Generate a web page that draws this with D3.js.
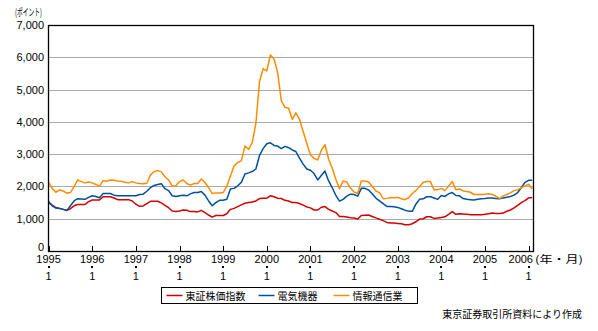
<!DOCTYPE html>
<html><head><meta charset="utf-8">
<script src="https://cdn.jsdelivr.net/npm/d3@7/dist/d3.min.js"></script>
<style>body{margin:0;background:#fff}svg{display:block}</style>
</head><body>
<svg id="c" width="598" height="331"></svg>
<script>
const yearLabels = ["1995","1996","1997","1998","1999","2000","2001","2002","2003","2004","2005","2006"];
const monthLabel = "1";
const yTicks = [0,1000,2000,3000,4000,5000,6000,7000];
const seriesNames = ["東証株価指数","電気機器","情報通信業"];
const seriesColors = ["#d40000","#0050a0","#ff8c00"];
// monthly values, 1995/1 .. 2006/2
const topix = [1500,1420,1345,1320,1290,1260,1310,1400,1440,1440,1440,1530,
1580,1580,1580,1680,1680,1680,1640,1590,1590,1590,1590,1550,
1450,1385,1395,1470,1540,1540,1540,1490,1415,1340,1240,1220,
1240,1270,1260,1220,1220,1210,1260,1190,1115,1050,1100,1100,
1100,1155,1290,1320,1375,1430,1480,1500,1520,1550,1625,1635,
1635,1710,1680,1635,1625,1570,1550,1500,1500,1470,1420,1365,
1335,1270,1270,1355,1375,1290,1240,1190,1070,1070,1055,1030,
1020,990,1100,1110,1115,1070,1025,985,940,885,870,865,
855,845,815,815,845,905,990,1000,1060,1060,1010,1020,
1040,1060,1135,1220,1135,1155,1145,1135,1125,1125,1125,1125,
1135,1155,1175,1165,1165,1175,1230,1270,1335,1415,1500,1560,
1645,1655];
const electric = [1530,1400,1330,1320,1290,1250,1400,1550,1620,1610,1600,1660,
1710,1690,1650,1780,1780,1780,1730,1710,1710,1710,1710,1710,
1710,1750,1760,1850,1960,2030,2060,2085,1930,1870,1710,1690,
1710,1730,1710,1770,1810,1810,1845,1730,1550,1400,1500,1570,
1570,1600,1917,1940,2020,2125,2385,2420,2460,2540,2960,3170,
3320,3350,3270,3250,3170,3240,3200,3130,3080,2880,2690,2540,
2500,2400,2200,2340,2480,2170,1960,1720,1545,1600,1700,1760,
1750,1700,1940,1940,1890,1770,1640,1550,1465,1380,1375,1370,
1350,1310,1265,1235,1230,1450,1600,1615,1680,1680,1640,1600,
1720,1690,1770,1810,1720,1710,1625,1600,1590,1580,1600,1615,
1625,1645,1645,1625,1615,1645,1665,1690,1730,1810,1960,2125,
2190,2190];
const infocom = [2130,1940,1820,1890,1860,1790,1810,1990,2200,2150,2110,2140,
2110,2060,2010,2180,2160,2200,2190,2170,2160,2130,2110,2150,
2110,2090,2080,2100,2350,2460,2490,2450,2300,2200,2010,2020,
2150,2200,2090,2040,2090,2090,2230,2120,1960,1780,1800,1800,
1810,2000,2320,2630,2740,2790,3250,3150,3360,3950,5250,5650,
5580,6070,5950,5520,4650,4450,4420,4080,4280,4080,3700,3330,
2980,2870,2820,3120,3290,2850,2560,2220,1930,2170,2140,1950,
1830,1780,2170,2170,2140,2000,1860,1810,1620,1630,1650,1650,
1660,1620,1590,1650,1780,1870,2000,2120,2150,2150,1900,1900,
1940,1870,2010,2150,1900,1920,1860,1840,1820,1750,1750,1750,
1760,1770,1750,1700,1625,1700,1750,1800,1870,1900,1960,2010,
2070,1920];
const series = [topix, electric, infocom];

const svg = d3.select("#c");
const L = 48, T = 25, R = 533, B = 251;
const x = d3.scaleLinear().domain([0, 132]).range([48.6, 528.6]);
const y = d3.scaleLinear().domain([0, 7000]).range([B, T]);
const numFont = "'Liberation Sans', Arial, sans-serif";
const jpFont = "'Noto Sans CJK JP', sans-serif";

// gridlines
svg.append("g").selectAll("line").data(yTicks.filter(v => v > 0 && v < 7000)).join("line")
  .attr("x1", L).attr("x2", R).attr("y1", d => Math.round(y(d)) + 0.5).attr("y2", d => Math.round(y(d)) + 0.5)
  .attr("stroke", "#aaaaaa").attr("stroke-width", 1);

// y labels
svg.append("g").selectAll("text").data(yTicks).join("text")
  .attr("x", 44).attr("y", d => d === 0 ? y(d) - 4 : y(d)).attr("dy", "0.36em")
  .attr("text-anchor", "end").attr("font-family", numFont).attr("font-size", 11).attr("fill", "#000")
  .text(d => d3.format(",")(d));

svg.append("text").attr("x", 15).attr("y", 16).attr("font-family", jpFont).attr("font-size", 10)
  .attr("textLength", 27).attr("lengthAdjust", "spacingAndGlyphs").text("(ポイント)");

// lines
const line = d3.line().x((d, i) => x(i)).y(d => y(d));
series.forEach((s, k) => {
  svg.append("path").datum(s).attr("d", line).attr("fill", "none")
    .attr("stroke", seriesColors[k]).attr("stroke-width", 1.5).attr("stroke-linejoin", "round");
});

// frame
svg.append("rect").attr("x", L + 0.5).attr("y", T + 0.5).attr("width", R - L).attr("height", B - T)
  .attr("fill", "none").attr("stroke", "#000").attr("stroke-width", 1.3);

// x ticks and labels
const xg = svg.append("g");
yearLabels.forEach((lab, k) => {
  const xx = Math.round(x(k * 12)) + 0.5;
  const last = k === yearLabels.length - 1;
  xg.append("line").attr("x1", xx).attr("x2", xx).attr("y1", B).attr("y2", B - 5).attr("stroke", "#000");
  xg.append("text").attr("x", last ? 533 : x(k * 12)).attr("y", 263).attr("text-anchor", last ? "end" : "middle")
    .attr("font-family", numFont).attr("font-size", 11).text(lab);
  xg.append("rect").attr("x", Math.round(x(k * 12)) - 1).attr("y", 266).attr("width", 2).attr("height", 2).attr("fill", "#000");
  xg.append("text").attr("x", x(k * 12)).attr("y", 280).attr("text-anchor", "middle")
    .attr("font-family", numFont).attr("font-size", 11).text(monthLabel);
});
xg.append("text").attr("x", 535).attr("y", 263).attr("font-family", jpFont).attr("font-size", 10)
  .attr("textLength", 48).attr("lengthAdjust", "spacingAndGlyphs").text("(年・月)");

// legend
const lg = svg.append("g");
lg.append("rect").attr("x", 161.5).attr("y", 287.5).attr("width", 256).attr("height", 16)
  .attr("fill", "#fff").attr("stroke", "#000");
const legX = [166.5, 258.5, 333.5];
seriesNames.forEach((n, k) => {
  lg.append("line").attr("x1", legX[k]).attr("x2", legX[k] + 16).attr("y1", 295.5).attr("y2", 295.5)
    .attr("stroke", seriesColors[k]).attr("stroke-width", 1.5);
  lg.append("text").attr("x", legX[k] + 19).attr("y", 299.5).attr("font-family", jpFont).attr("font-size", 10).text(n);
});

svg.append("text").attr("x", 582).attr("y", 318).attr("text-anchor", "end").attr("font-family", jpFont)
  .attr("font-size", 10).text("東京証券取引所資料により作成");
</script>
</body></html>
